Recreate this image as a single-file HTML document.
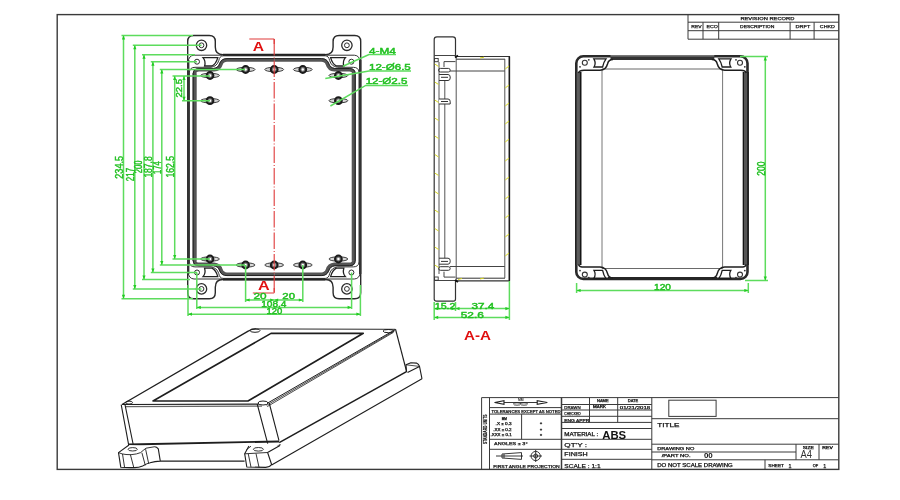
<!DOCTYPE html>
<html><head><meta charset="utf-8"><title>Enclosure Drawing</title>
<style>
html,body{margin:0;padding:0;background:#fff;width:900px;height:500px;overflow:hidden}
svg{display:block;will-change:transform}
text{font-family:"Liberation Sans",sans-serif}
.g{stroke:#5ddc5d;stroke-width:1.5;fill:none}
.gt{fill:#22c022;stroke:#22c022;stroke-width:0.45px;font-size:10.5px}
.k{stroke:#2a2a2a;fill:none}
.tb{stroke:#3a3a3a;stroke-width:1;fill:none}
.tt{fill:#1a1a1a;stroke:#1a1a1a;stroke-width:0.25px;font-size:4.2px}
</style></head>
<body>
<svg width="900" height="500" viewBox="0 0 900 500">
<defs>
<marker id="ar" viewBox="0 0 10 10" refX="10" refY="5" markerWidth="5" markerHeight="4" orient="auto-start-reverse" markerUnits="userSpaceOnUse">
<path d="M0,1 L10,5 L0,9 z" fill="#2c2"/></marker>
<g id="boss">
<ellipse rx="9.4" ry="2.2" fill="#d8d8d8" stroke="#2a2a2a" stroke-width="0.9"/>
<circle r="3.4" fill="#777" stroke="#1a1a1a" stroke-width="2"/>
<circle r="1.2" fill="#fff" stroke="none"/>
</g>
<g id="fcorner">
<!-- top-left corner details of front view -->
<circle cx="201.5" cy="45.3" r="5.2" fill="none" stroke="#2a2a2a" stroke-width="1.3"/>
<circle cx="201.5" cy="45.3" r="2.4" fill="none" stroke="#2a2a2a" stroke-width="1"/>
<circle cx="197" cy="61.7" r="2.5" fill="none" stroke="#2a2a2a" stroke-width="1"/>
<path d="M203,57.6 L217.8,57.6 Q216,64 212,66 L204.6,66 Q206,61 203,57.6 z" fill="none" stroke="#222" stroke-width="1.3"/>
<path d="M188.2,62 Q188.6,55.6 194,55.2 L222,55.2" fill="none" stroke="#333" stroke-width="1"/>
<path d="M189.4,72 Q189.8,67.4 195,67.3 L211,67.3 Q217,66.5 218.8,60.5 Q219.6,56 223,55.8 L274.2,55.8" fill="none" stroke="#333" stroke-width="1"/>
<path d="M194.5,74 Q194.5,69.8 199,69.8 L214,69.8 Q219.5,69.4 221,64 Q222.5,60 227,60 L274.2,60" fill="none" stroke="#555" stroke-width="3.6"/>
<path d="M193.2,74 Q193.2,68.5 199,68.5 L213.5,68.5 Q218.3,68 219.8,63.2 Q221.5,58.6 227,58.6 L274.2,58.6" fill="none" stroke="#222" stroke-width="1"/>
</g>
</defs>

<!-- drawing border -->
<rect x="57.2" y="14.6" width="781.6" height="454.8" fill="none" stroke="#3a3a3a" stroke-width="1.4"/>

<!-- revision record -->
<g class="tb">
<path d="M688,14.6 V39.2 H838.6 M688,22.2 H838.6 M688,30.7 H838.6 M703,22.2 V39.2 M718.7,22.2 V39.2 M790.1,22.2 V39.2 M814.1,22.2 V39.2"/>
</g>
<g class="tt" font-size="4">
<text x="740.4" y="19.8" textLength="54" lengthAdjust="spacingAndGlyphs">REVISION RECORD</text>
<text x="691.3" y="28.4" textLength="10.4" lengthAdjust="spacingAndGlyphs">REV</text>
<text x="706.4" y="28.4" textLength="11.4" lengthAdjust="spacingAndGlyphs">ECO</text>
<text x="740" y="28.4" textLength="34.4" lengthAdjust="spacingAndGlyphs">DESCRIPTION</text>
<text x="795.6" y="28.4" textLength="14.7" lengthAdjust="spacingAndGlyphs">DRFT</text>
<text x="819.8" y="28.4" textLength="15.1" lengthAdjust="spacingAndGlyphs">CHKD</text>
</g>

<!-- ================= FRONT VIEW ================= -->
<g id="front">
<!-- corners -->
<use href="#fcorner"/>
<use href="#fcorner" transform="matrix(-1 0 0 1 548.4 0)"/>
<use href="#fcorner" transform="matrix(1 0 0 -1 0 334.2)"/>
<use href="#fcorner" transform="matrix(-1 0 0 -1 548.4 334.2)"/>
<path d="M189.4,71.5 V262.7 M359,71.5 V262.7" stroke="#333" stroke-width="1"/>
<path d="M194.6,73.5 V260.7 M353.8,73.5 V260.7" stroke="#555" stroke-width="4.2"/>
<path d="M193.2,73.5 V260.7 M355.2,73.5 V260.7" stroke="#222" stroke-width="1"/>
<!-- outer outline -->
<path d="M187.7,41.5 Q187.7,35.5 193.7,35.5 L209.3,35.5 Q215.3,35.5 215.3,41.5 L215.3,47 Q215.3,54.7 223,54.7 L325.4,54.7 Q333.1,54.7 333.1,47 L333.1,41.5 Q333.1,35.5 339.1,35.5 L354.7,35.5 Q360.7,35.5 360.7,41.5 L360.7,292.7 Q360.7,298.7 354.7,298.7 L339.1,298.7 Q333.1,298.7 333.1,292.7 L333.1,287.2 Q333.1,279.5 325.4,279.5 L223,279.5 Q215.3,279.5 215.3,287.2 L215.3,292.7 Q215.3,298.7 209.3,298.7 L193.7,298.7 Q187.7,298.7 187.7,292.7 Z" fill="none" stroke="#2a2a2a" stroke-width="1.4"/>
<path d="M223,54.7 L325.4,54.7 M223,279.5 L325.4,279.5" stroke="#222" stroke-width="2"/>
<path d="M188.2,60 V274 M360.2,60 V274" stroke="#333" stroke-width="2.4"/>
<!-- bosses -->
<use href="#boss" x="210" y="75.5"/>
<use href="#boss" x="210" y="100.7"/>
<use href="#boss" x="245.6" y="69.5"/>
<use href="#boss" x="274.2" y="69.5"/>
<use href="#boss" x="302.8" y="69.5"/>
<use href="#boss" x="338.4" y="75.5"/>
<use href="#boss" x="338.4" y="100.7"/>
<use href="#boss" x="210" y="259"/>
<use href="#boss" x="245.6" y="265"/>
<use href="#boss" x="274.2" y="265"/>
<use href="#boss" x="302.8" y="265"/>
<use href="#boss" x="338.4" y="259"/>
<!-- section line -->
<path d="M274.2,39 V293" stroke="#e03a3a" stroke-width="1.1" stroke-dasharray="16.5,2,1,2" fill="none"/>
<path d="M249.3,39 H274.2 M252.8,293 H274.2" stroke="#e03a3a" stroke-width="1.1" fill="none"/>
<path d="M274.2,39 V44 M274.2,293 V288" stroke="#e03a3a" stroke-width="1.1" fill="none"/>
<text x="252.7" y="51" fill="#e01010" font-size="13" font-weight="bold" textLength="11.3" lengthAdjust="spacingAndGlyphs">A</text>
<text x="258" y="290.2" fill="#e01010" font-size="12" font-weight="bold" textLength="11.7" lengthAdjust="spacingAndGlyphs">A</text>
</g>

<!-- front view dimensions -->
<g class="g">
<!-- extension lines -->
<path d="M121.5,35.5 H193 M132.8,45.3 H201.5 M142,54.7 H195 M150.8,61.7 H197 M159.8,69.5 H245 M172.5,76 H210 M182,100.7 H210"/>
<path d="M121.5,298.7 H193 M132.8,288.9 H201.5 M142,279.5 H190 M150.8,272.5 H197 M159.8,265 H245 M172.5,259 H210"/>
<path d="M188,285 V316 M360.4,285 V316 M196.8,272.5 V309 M351.6,272.5 V309 M245.6,265 V302 M302.8,265 V302"/>
<!-- dimension lines -->
<path marker-start="url(#ar)" marker-end="url(#ar)" d="M123.5,35.5 V298.7"/>
<path marker-start="url(#ar)" marker-end="url(#ar)" d="M134.8,45.3 V288.9"/>
<path marker-start="url(#ar)" marker-end="url(#ar)" d="M144,54.7 V279.5"/>
<path marker-start="url(#ar)" marker-end="url(#ar)" d="M152.9,61.7 V272.5"/>
<path marker-start="url(#ar)" marker-end="url(#ar)" d="M161.8,69.5 V265"/>
<path marker-start="url(#ar)" marker-end="url(#ar)" d="M174.7,76 V259"/>
<path marker-start="url(#ar)" marker-end="url(#ar)" d="M184,76 V100.7"/>
<path marker-start="url(#ar)" marker-end="url(#ar)" d="M245.6,300 H274.2"/>
<path marker-start="url(#ar)" marker-end="url(#ar)" d="M274.2,300 H302.8"/>
<path marker-start="url(#ar)" marker-end="url(#ar)" d="M196.8,307.4 H351.6"/>
<path marker-start="url(#ar)" marker-end="url(#ar)" d="M188,314.2 H360.4"/>
</g>
<g class="gt">
<text transform="translate(122.6,167.35) rotate(-90)" text-anchor="middle" font-size="11" textLength="22.7" lengthAdjust="spacingAndGlyphs">234.5</text>
<text transform="translate(133.9,174.5) rotate(-90)" text-anchor="middle" font-size="11" textLength="13.3" lengthAdjust="spacingAndGlyphs">217</text>
<text transform="translate(142.4,166.8) rotate(-90)" text-anchor="middle" font-size="11" textLength="12.8" lengthAdjust="spacingAndGlyphs">200</text>
<text transform="translate(152.4,167) rotate(-90)" text-anchor="middle" font-size="11" textLength="21.2" lengthAdjust="spacingAndGlyphs">187.8</text>
<text transform="translate(161.2,167.6) rotate(-90)" text-anchor="middle" font-size="11" textLength="12.8" lengthAdjust="spacingAndGlyphs">174</text>
<text transform="translate(174,166.8) rotate(-90)" text-anchor="middle" font-size="11" textLength="21.6" lengthAdjust="spacingAndGlyphs">162.5</text>
<text transform="translate(182,88.25) rotate(-90)" text-anchor="middle" font-size="9.8" textLength="18.5" lengthAdjust="spacingAndGlyphs">22.5</text>
<text x="253.4" y="299.4" font-size="9" textLength="13.1" lengthAdjust="spacingAndGlyphs">20</text>
<text x="282.3" y="299.4" font-size="9" textLength="12.7" lengthAdjust="spacingAndGlyphs">20</text>
<text x="261.2" y="307.4" font-size="9" textLength="25.3" lengthAdjust="spacingAndGlyphs">108.4</text>
<text x="266.5" y="314.2" font-size="8.2" textLength="15.8" lengthAdjust="spacingAndGlyphs">120</text>
<!-- callouts -->
<text x="369" y="53.6" font-size="8.2" textLength="26.8" lengthAdjust="spacingAndGlyphs">4-M4</text>
<text x="369" y="70" font-size="8.4" textLength="41.8" lengthAdjust="spacingAndGlyphs">12-Ø6.5</text>
<text x="365.7" y="84" font-size="8.2" textLength="41.7" lengthAdjust="spacingAndGlyphs">12-Ø2.5</text>
</g>
<g class="g">
<path d="M396,54.6 H369 L343,66.3"/>
<path d="M411,71 H369 L325.3,78.6"/>
<path d="M408,85.4 H365.7 L330.4,106"/>
</g>

<!-- ================= SIDE VIEW (A-A) ================= -->
<g id="side" fill="none">
<path d="M434.2,299 V39.5 Q434.2,36.8 437,36.8 L452.8,36.8 Q455.5,36.8 455.5,39.5 V56.5" stroke="#333" stroke-width="1.2"/>
<path d="M434.2,299 Q434.2,301.2 436.5,301.2 L453.5,301.2 Q455.5,301.2 455.5,299 V281" stroke="#333" stroke-width="1.2"/>
<path d="M434.2,55.5 H455.5 M434.2,280.5 H455.5" stroke="#444" stroke-width="1"/>
<path d="M455.5,56.5 H509.4 V280.8 H455.5" stroke="#333" stroke-width="1.2"/>
<path d="M456,59.2 H505 M456,278.2 H505" stroke="#333" stroke-width="1"/>
<path d="M439,62 V274 M444.8,80.5 V258.2 M456.2,56 V281 M504.8,59 V278" stroke="#555" stroke-width="1"/>
<path d="M509.4,56.5 V280.8" stroke="#1a1a1a" stroke-width="1.5"/>
<path d="M450,71 H504.8 M450,266.5 H504.8" stroke="#444" stroke-width="1"/>
<!-- clips top -->
<rect x="434.6" y="58.5" width="3.6" height="3.2" stroke="#333" stroke-width="0.9"/>
<path d="M444,67 V61.6 H455.5" stroke="#444" stroke-width="1"/>
<rect x="438.6" y="68.4" width="11.6" height="3.6" rx="1.8" stroke="#333" stroke-width="1"/>
<path d="M439,74.5 H448 Q450.2,74.5 450.2,77 V78 Q450.2,80.5 448,80.5 H439 M441,77.3 H448" stroke="#333" stroke-width="1"/>
<path d="M439,99 H448 Q450.2,99 450.2,101.5 V104 H439 M441,101.5 H448" fill="#fff" stroke="#333" stroke-width="1"/>
<!-- clips bottom (mirror) -->
<g transform="matrix(1 0 0 -1 0 338.7)">
<rect x="434.6" y="58.5" width="3.6" height="3.2" stroke="#333" stroke-width="0.9"/>
<path d="M444,67 V61.6 H455.5" stroke="#444" stroke-width="1"/>
<rect x="438.6" y="68.4" width="11.6" height="3.6" rx="1.8" stroke="#333" stroke-width="1"/>
<path d="M439,74.5 H448 Q450.2,74.5 450.2,77 V78 Q450.2,80.5 448,80.5 H439 M441,77.3 H448" stroke="#333" stroke-width="1"/>
</g>
<!-- hatch -->
<g stroke="#d8d820" stroke-width="1">
<path d="M434.8,64 L438.6,66.5 M434.8,82 L438.6,84.5 M434.8,100 L438.6,102.5 M434.8,118 L438.6,120.5 M434.8,136 L438.6,138.5 M434.8,154.5 L438.6,157 M434.8,173 L438.6,175.5 M434.8,191.5 L438.6,194 M434.8,210 L438.6,212.5 M434.8,228.5 L438.6,231 M434.8,247 L438.6,249.5 M434.8,265 L438.6,267.5"/>
<path d="M505.2,69 L509,66 M505.2,88 L509,85 M505.2,106 L509,103 M505.2,124 L509,121 M505.2,142 L509,139 M505.2,161 L509,158 M505.2,180 L509,177 M505.2,199 L509,196 M505.2,218 L509,215 M505.2,237 L509,234 M505.2,256 L509,253"/>
<path d="M480,58 L484,57.2 M480,279 L484,278 M458,279.5 L462,278.5"/>
</g>
<path d="M455,57.5 L458,55.5 M455,280 L458,282" stroke="#111" stroke-width="2"/>
</g>
<!-- side view dims -->
<g class="g">
<path d="M434.2,302 V320 M455.5,302 V311 M509.4,281 V320"/>
<path marker-start="url(#ar)" marker-end="url(#ar)" d="M434.2,308.6 H455.5"/>
<path marker-start="url(#ar)" marker-end="url(#ar)" d="M455.5,308.6 H509.4"/>
<path marker-start="url(#ar)" marker-end="url(#ar)" d="M434.2,317.4 H509.4"/>
</g>
<g class="gt">
<text x="434.7" y="308.8" font-size="8.5" textLength="20.8" lengthAdjust="spacingAndGlyphs">15.2</text>
<text x="471.5" y="308.6" font-size="9" textLength="22.7" lengthAdjust="spacingAndGlyphs">37.4</text>
<text x="460.7" y="317.8" font-size="9.2" textLength="23.1" lengthAdjust="spacingAndGlyphs">52.6</text>
</g>
<text x="477.5" y="340" fill="#e01010" font-size="13.2" font-weight="bold" text-anchor="middle" textLength="27" lengthAdjust="spacingAndGlyphs">A-A</text>

<!-- ================= LID VIEW ================= -->
<g id="lid" fill="none">
<rect x="576.3" y="56.3" width="171.2" height="222.6" rx="7" stroke="#2a2a2a" stroke-width="2.6"/>
<rect x="575" y="72" width="6.4" height="193" fill="#5c5c5c" stroke="none"/><path d="M575.8,72 V265" stroke="#222" stroke-width="1.6"/>
<path d="M580.6,72 V265" stroke="#151515" stroke-width="1.4"/>
<rect x="742.8" y="72" width="6" height="193" fill="#555" stroke="none"/><path d="M748,72 V265" stroke="#1a1a1a" stroke-width="1.6"/>
<path d="M743.4,72 V265" stroke="#151515" stroke-width="1.2"/>
<rect x="610.5" y="55" width="103.8" height="5" fill="#333" stroke="none"/>
<rect x="610.5" y="55" width="103.8" height="1.6" fill="#777" stroke="none"/>
<rect x="608" y="277" width="109" height="3" fill="#262626" stroke="none"/>
<path d="M602,69 H722.6 M602,268.5 H722.6" stroke="#6a6a6a" stroke-width="1.1"/>
<path d="M602,69 V268.5 M722.6,69 V268.5" stroke="#777" stroke-width="1"/>
<g id="lc">
<path d="M578.5,73 Q579.5,70.3 584,70.3 L600,70.3 Q606,70 607.5,64 Q608.5,59.5 613,59.5" stroke="#1e1e1e" stroke-width="1.5"/>
<circle cx="584.8" cy="62.8" r="2.5" stroke="#333" stroke-width="1.1"/>
<circle cx="588.8" cy="59.8" r="0.9" fill="#333" stroke="none"/>
<circle cx="580" cy="66.8" r="0.9" fill="#333" stroke="none"/>
<path d="M593.8,58.8 L606,58.8 Q603.6,62 602.6,67 L594,67 Q596.4,63 593.8,58.8 z" stroke="#1e1e1e" stroke-width="1.3"/>
</g>
<use href="#lc" transform="matrix(-1 0 0 1 1324.8 0)"/>
<use href="#lc" transform="matrix(1 0 0 -1 0 337.4)"/>
<use href="#lc" transform="matrix(-1 0 0 -1 1324.8 337.4)"/>
</g>
<g class="g">
<path d="M740,56.6 H768 M745,280.5 H768 M576.6,283 V293 M748.3,283 V293"/>
<path marker-start="url(#ar)" marker-end="url(#ar)" d="M765.3,56.6 V280.5"/>
<path marker-start="url(#ar)" marker-end="url(#ar)" d="M576.6,290.5 H748.3"/>
</g>
<g class="gt">
<text transform="translate(764.6,168.7) rotate(-90)" text-anchor="middle" font-size="10.8" textLength="14.2" lengthAdjust="spacingAndGlyphs">200</text>
<text x="654" y="290" font-size="9" textLength="17" lengthAdjust="spacingAndGlyphs">120</text>
</g>

<!-- ================= ISO VIEW ================= -->
<g id="iso" fill="none" stroke="#1e1e1e" stroke-linejoin="round">
<!-- base flange -->
<path d="M266.6,452.3 L280.5,444.5 M407.5,372.6 L419.5,366.4 M271.6,465 L422,378.8" stroke-width="1.1"/>
<!-- right back ear of flange -->
<path d="M406.5,371.8 L406,364.8 L410.9,362.7 L416.5,363.1 Q418.8,364 419.5,366.4 L422,378.8" stroke-width="1.1"/>
<path d="M406,364.8 L419.5,366.4" stroke-width="0.8"/>
<!-- body right side bottom edge -->
<path d="M279.2,442.6 L406.5,371.6" stroke-width="1.6"/>
<!-- body right back vertical edge -->
<path d="M395.5,329.1 L406.7,371.8" stroke-width="1.2"/>
<!-- lid top face -->
<path d="M250,329.6 L395.6,329.4 L266,404 L122,404.5 Z" fill="#fff" stroke="none"/>
<path d="M122,404.5 L248.6,330.9 Q251.2,328.9 256,328.8" stroke-width="1.3"/>
<path d="M256,328.8 L395.2,329.3" stroke="#555" stroke-width="1.3"/>
<path d="M395.6,329.4 L266,404" stroke-width="1"/>
<path d="M394.6,330.9 L266.6,405.3 M393.6,332.3 L267.2,406.6" stroke-width="0.8"/>
<path d="M122,404.5 L262,404.1" stroke-width="1.2"/>
<path d="M125,406.6 L262,406.2" stroke="#666" stroke-width="1.2"/>
<!-- inner panel -->
<path d="M271,333.4 L363.3,333.2 L248,401 L153,401 Z" stroke-width="1.6"/>
<!-- corner ellipses -->
<ellipse cx="255" cy="330.6" rx="5" ry="1.7"/>
<ellipse cx="388.3" cy="331.1" rx="5.2" ry="1.6"/>
<ellipse cx="129" cy="402.6" rx="3.5" ry="1.5"/>
<ellipse cx="263" cy="403" rx="5" ry="2" fill="#fff"/>
<!-- front face -->
<path d="M121.2,404.7 L128.7,445.2 M125,404.7 L133.2,444.5" stroke-width="1.1"/>
<path d="M257.2,404 L267.7,443.7 M269.2,403 L279,440.7" stroke-width="1.1"/>
<path d="M128.7,444.5 L279,441.5" stroke-width="1.8"/>
<!-- left ear of base -->
<path d="M129,445 L118.5,452.6 L120.8,467.3 Q127,467.8 134.4,467.6 Q139,467.4 142.6,465.9 Q147,463.5 150.1,462.8 Q155,461.3 160.3,461.1 L158.3,448.9 Q156.5,446.6 154.2,446.8" fill="#fff" stroke-width="1.1"/>
<path d="M118.5,452.6 Q122,454.2 126,454.5 L131,454.7 Q137,454.2 140.6,452.6 Q143,450.5 146,448.2 L154.2,446.8 M122.5,454 L124.6,467.5 M130.4,454.6 L133.8,467.6 M141.9,452.8 L145.3,465.3 M145.6,449.2 L148.7,463.6" stroke-width="0.9"/>
<ellipse cx="132.7" cy="449.3" rx="4.6" ry="1.7" stroke-width="0.9"/>
<path d="M160.3,461.1 H244.6" stroke-width="1.1"/>
<!-- right ear of base -->
<path d="M248.9,446 L244.7,453.8 L246.8,467 L265.7,467.4 Q270,467 271.6,464.5 L267.6,452.5 L280,445.5" fill="#fff" stroke-width="1.1"/>
<path d="M244.7,453.8 L267.6,452.5 M248.3,454 L251,467.2 M256,453.6 L259,467.3 M246.5,449.6 L251,446.2" stroke-width="0.9"/>
<ellipse cx="258.4" cy="449.3" rx="5" ry="1.8" stroke-width="0.9"/>
</g>

<!-- ================= TITLE BLOCK ================= -->
<g class="tb">
<path d="M481.6,397.6 H838.6 M481.6,397.6 V469.2"/>
<path d="M489.5,397.6 V469.2 M651.8,397.6 V469.2"/><path d="M561.5,397.6 V469.2" stroke-width="1.5"/>
<path d="M489.5,407.6 H561.2 M489.5,414.1 H561.2 M489.5,439.3 H561.2 M489.5,449.3 H561.2 M521.6,414.1 V439.3"/>
<path d="M561.2,404.5 H651.8 M561.2,410 H651.8 M561.2,416.3 H651.8 M561.2,422.4 H651.8 M561.2,428.5 H651.8 M561.2,439.3 H651.8 M561.2,449.3 H651.8 M561.2,459.3 H651.8"/>
<path d="M589.5,397.6 V422.4 M617.7,397.6 V422.4"/>
<path d="M651.8,418.7 H838.6 M651.8,444.2 H838.6 M651.8,452 H796 M651.8,459.8 H838.6 M796,444.2 V459.8 M819,444.2 V459.8 M765,459.8 V469.2"/>
<rect x="668.8" y="400.2" width="47.3" height="16.2"/>
</g>
<g class="tt">
<text x="491.6" y="412.5" font-size="3.8" textLength="68.9" lengthAdjust="spacingAndGlyphs">TOLERANCES EXCEPT AS NOTED</text>
<text x="501.7" y="419.6" font-size="2.8" textLength="5.1" lengthAdjust="spacingAndGlyphs">MM</text>
<text x="495.6" y="425.3" font-size="3.6" textLength="16" lengthAdjust="spacingAndGlyphs">.X  ± 0.3</text>
<text x="493.2" y="431" font-size="3.6" textLength="18.4" lengthAdjust="spacingAndGlyphs">.XX  ± 0.2</text>
<text x="490.5" y="436" font-size="3.6" textLength="21.1" lengthAdjust="spacingAndGlyphs">.XXX  ± 0.1</text>
<text x="494" y="445.3" font-size="4.4" textLength="33.6" lengthAdjust="spacingAndGlyphs">ANGLES ± 3°</text>
<text x="493.2" y="468.2" font-size="4.4" textLength="66.5" lengthAdjust="spacingAndGlyphs">FIRST ANGLE PROJECTION</text>
<text x="564.3" y="408.8" font-size="4" textLength="16.3" lengthAdjust="spacingAndGlyphs">DRAWN</text>
<text x="564.3" y="415.2" font-size="4" textLength="16.3" lengthAdjust="spacingAndGlyphs">CHECKED</text>
<text x="564.3" y="421.5" font-size="4" textLength="25.1" lengthAdjust="spacingAndGlyphs">ENG APPR</text>
<text x="597" y="401.7" font-size="3.2" textLength="11.6" lengthAdjust="spacingAndGlyphs">NAME</text>
<text x="627.8" y="401.7" font-size="3.2" textLength="10.4" lengthAdjust="spacingAndGlyphs">DATE</text>
<text x="593" y="407.8" font-size="3.0" textLength="12.9" lengthAdjust="spacingAndGlyphs">MARK</text>
<text x="619.8" y="408.8" font-size="4" textLength="30.4" lengthAdjust="spacingAndGlyphs">01/21/2018</text>
<text x="564.3" y="435.6" font-size="4.6" textLength="33.9" lengthAdjust="spacingAndGlyphs">MATERIAL :</text>
<text x="564.3" y="446.5" font-size="5.8" textLength="22.7" lengthAdjust="spacingAndGlyphs">QT'Y :</text>
<text x="564.3" y="456.4" font-size="5.4" textLength="23.5" lengthAdjust="spacingAndGlyphs">FINISH</text>
<text x="564.3" y="467.6" font-size="5.4" textLength="36.3" lengthAdjust="spacingAndGlyphs">SCALE : 1:1</text>
<text x="657.2" y="427.1" font-size="5.2" textLength="22.2" lengthAdjust="spacingAndGlyphs">TITLE</text>
<text x="657.2" y="449.9" font-size="3.9" textLength="37.1" lengthAdjust="spacingAndGlyphs">DRAWING NO</text>
<text x="661.7" y="457.1" font-size="3.9" textLength="28.9" lengthAdjust="spacingAndGlyphs">/PART  NO.</text>
<text x="657.2" y="466.5" font-size="4.6" textLength="75.6" lengthAdjust="spacingAndGlyphs">DO NOT SCALE DRAWING</text>
<text x="768.3" y="467" font-size="3.8" textLength="15.6" lengthAdjust="spacingAndGlyphs">SHEET</text>
<text x="788.6" y="467.6" font-size="5.4" textLength="3" lengthAdjust="spacingAndGlyphs">1</text>
<text x="812.8" y="467" font-size="3.8" textLength="5.5" lengthAdjust="spacingAndGlyphs">OF</text>
<text x="823.2" y="467.6" font-size="5.4" textLength="3" lengthAdjust="spacingAndGlyphs">1</text>
<text x="802.8" y="449.1" font-size="3.0" textLength="11.1" lengthAdjust="spacingAndGlyphs">SIZE</text>
<text x="822.3" y="449.1" font-size="3.0" textLength="10.5" lengthAdjust="spacingAndGlyphs">REV</text>
<circle cx="541" cy="423.3" r="0.9" fill="#222"/><circle cx="541" cy="429.6" r="0.9" fill="#222"/><circle cx="541" cy="434.9" r="0.9" fill="#222"/>
</g>
<text x="520.8" y="401.3" font-size="3.4" font-weight="bold" fill="#222" text-anchor="middle">MM</text>
<text x="602.2" y="438.5" font-size="10.4" font-weight="bold" fill="#111" textLength="24" lengthAdjust="spacingAndGlyphs">ABS</text>
<text x="800.6" y="458.3" font-size="10" fill="#333" textLength="11.5" lengthAdjust="spacingAndGlyphs">A4</text>
<text x="703.9" y="458.3" font-size="7.2" font-weight="bold" fill="#111" textLength="8.9" lengthAdjust="spacingAndGlyphs">00</text>
<text transform="translate(486.6,429.3) rotate(-90)" font-size="4.6" font-weight="bold" fill="#111" stroke="#111" stroke-width="0.2" text-anchor="middle" textLength="29.5" lengthAdjust="spacingAndGlyphs">STANDARD UNITS</text>
<!-- projection symbol -->
<g fill="none" stroke="#222" stroke-width="0.9">
<path d="M494.7,402.5 H547.2"/><path d="M494.7,402.5 L504,400.7 V404.3 Z M547.2,402.5 L537.2,400.7 V404.3 Z" fill="#fff" stroke-width="1.1"/>
<ellipse cx="517" cy="404" rx="3.6" ry="1.2" stroke-width="0.8"/><ellipse cx="524" cy="404" rx="3.6" ry="1.2" stroke-width="0.8"/>
<path d="M496,456 H523 M502,454 L521.5,452.6 V459.4 L502,458 Z M504,454 V458"/>
<circle cx="535.7" cy="456" r="4.6"/><circle cx="535.7" cy="456" r="2"/>
<path d="M529.5,456 H542 M535.7,450 V462"/>
</g>
</svg>
</body></html>
